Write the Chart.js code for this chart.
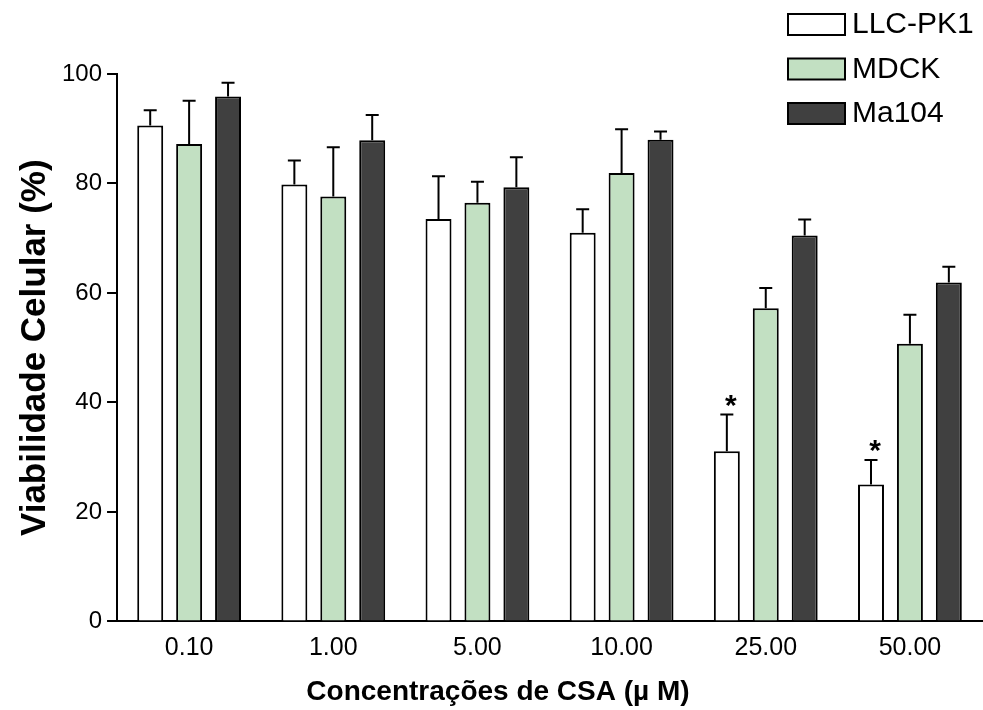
<!DOCTYPE html>
<html lang="pt">
<head>
<meta charset="UTF-8" />
<title>Viabilidade Celular</title>
<script src="https://cdn.jsdelivr.net/npm/chart.js@4.4.0/dist/chart.umd.min.js"></script>
<style>
  html, body { margin: 0; padding: 0; background: #fff; }
  #wrap { width: 983px; height: 710px; }
</style>
</head>
<body>
<div id="wrap"><canvas id="cellChart" width="983" height="710"></canvas></div>
<script>
// categories (CSA concentration, uM)
const concentrations = ['0.10', '1.00', '5.00', '10.00', '25.00', '50.00'];

// mean viability (%) per cell line
const llcpk1 = [90.6, 79.8, 73.5, 71.0, 31.1, 25.0];
const mdck   = [87.2, 77.6, 76.5, 81.9, 57.2, 50.7];
const ma104  = [95.9, 87.9, 79.3, 88.0, 70.5, 61.9];

// upper error (SD / SEM)
const llcpk1Err = [2.8, 4.4, 7.8, 4.3, 6.7, 4.5];
const mdckErr   = [7.9, 9.0, 3.8, 8.0, 3.7, 5.3];
const ma104Err  = [2.5, 4.6, 5.5, 1.5, 2.9, 2.9];

// significance marks (*) over LLC-PK1
const llcpk1Sig = [false, false, false, false, true, true];

const yTicks = [0, 20, 40, 60, 80, 100];

const errors = [llcpk1Err, mdckErr, ma104Err];
const signif = [llcpk1Sig, null, null];

// error bars + asterisks
const errorBarPlugin = {
  id: 'errorBars',
  afterDatasetsDraw(chart) {
    const ctx = chart.ctx;
    const y = chart.scales.y;
    ctx.save();
    ctx.strokeStyle = '#000';
    ctx.lineWidth = 2;
    chart.data.datasets.forEach((ds, i) => {
      const meta = chart.getDatasetMeta(i);
      meta.data.forEach((bar, j) => {
        const top = y.getPixelForValue(ds.data[j]);
        const yErr = y.getPixelForValue(ds.data[j] + errors[i][j]);
        ctx.beginPath();
        ctx.moveTo(bar.x, top);
        ctx.lineTo(bar.x, yErr);
        ctx.moveTo(bar.x - 6.5, yErr);
        ctx.lineTo(bar.x + 6.5, yErr);
        ctx.stroke();
        if (signif[i] && signif[i][j]) {
          ctx.fillStyle = '#000';
          ctx.font = 'bold 30px "Liberation Sans", Arial, sans-serif';
          ctx.textAlign = 'center';
          ctx.textBaseline = 'middle';
          ctx.fillText('*', bar.x + 4, yErr - 8);
        }
      });
    });
    ctx.restore();
  }
};

// legend stacked in the top right corner
const cornerLegend = {
  id: 'cornerLegend',
  afterDraw(chart) {
    const ctx = chart.ctx;
    ctx.save();
    ctx.font = '30px "Liberation Sans", Arial, sans-serif';
    ctx.textAlign = 'left';
    ctx.textBaseline = 'middle';
    chart.data.datasets.forEach((ds, i) => {
      const by = 14 + i * 44.5;
      ctx.fillStyle = ds.backgroundColor;
      ctx.fillRect(788, by, 57, 21);
      ctx.strokeStyle = '#000';
      ctx.lineWidth = 2;
      ctx.strokeRect(788, by, 57, 21);
      ctx.fillStyle = '#000';
      ctx.fillText(ds.label, 852, by + 11);
    });
    ctx.restore();
  }
};

const ctx = document.getElementById('cellChart').getContext('2d');
new Chart(ctx, {
  type: 'bar',
  data: {
    labels: concentrations,
    datasets: [
      { label: 'LLC-PK1', data: llcpk1, backgroundColor: '#ffffff' },
      { label: 'MDCK', data: mdck, backgroundColor: '#c2e0c2' },
      { label: 'Ma104', data: ma104, backgroundColor: '#404040' }
    ]
  },
  options: {
    responsive: false,
    animation: false,
    devicePixelRatio: 1,
    datasets: {
      bar: {
        borderColor: '#000',
        borderWidth: 2,
        borderSkipped: 'bottom',
        categoryPercentage: 0.81,
        barPercentage: 0.667
      }
    },
    layout: { padding: { top: 74, right: 1, left: 14, bottom: 1 } },
    plugins: {
      legend: { display: false },
      tooltip: { enabled: false },
      title: {
        display: true,
        position: 'bottom',
        text: 'Concentrações de CSA (µ M)',
        color: '#000',
        font: { family: '"Liberation Sans", Arial, sans-serif', size: 28, weight: 'bold' },
        padding: { top: 0, bottom: 0 }
      }
    },
    scales: {
      x: {
        grid: { display: false, drawTicks: false },
        border: { color: '#000', width: 2 },
        ticks: {
          color: '#000',
          padding: 12,
          font: { family: '"Liberation Sans", Arial, sans-serif', size: 25 }
        }
      },
      y: {
        min: 0,
        max: 100,
        afterBuildTicks(scale) { scale.ticks = yTicks.map(v => ({ value: v })); },
        grid: { drawOnChartArea: false, color: '#000', lineWidth: 2, tickLength: 10 },
        border: { color: '#000', width: 2 },
        ticks: {
          color: '#000',
          padding: 5,
          font: { family: '"Liberation Sans", Arial, sans-serif', size: 24 }
        },
        title: {
          display: true,
          text: 'Viabilidade Celular (%)',
          color: '#000',
          font: { family: '"Liberation Sans", Arial, sans-serif', size: 35, weight: 'bold' },
          padding: { top: 0, bottom: 1 }
        }
      }
    }
  },
  plugins: [errorBarPlugin, cornerLegend]
});
</script>
</body>
</html>
